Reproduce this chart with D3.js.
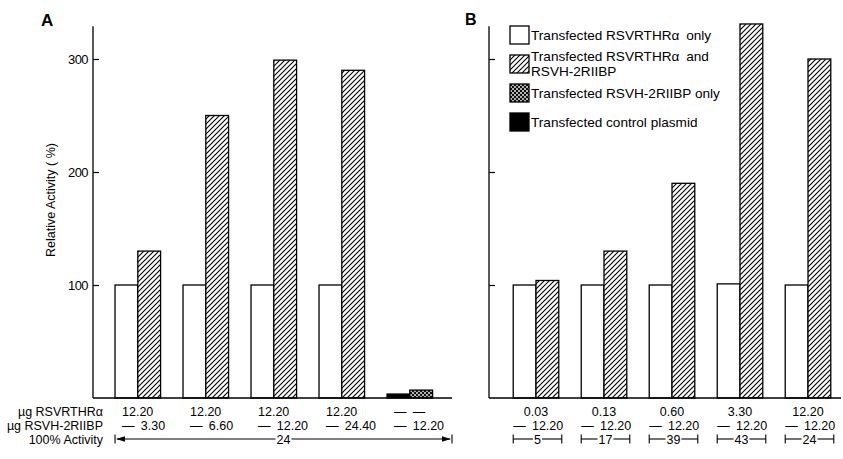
<!DOCTYPE html>
<html>
<head>
<meta charset="utf-8">
<script src="https://cdn.jsdelivr.net/npm/d3@7"></script>
<style>
  html, body { margin: 0; padding: 0; background: #fff; }
  svg { display: block; font-family: "Liberation Sans", Arial, Helvetica, sans-serif; }
</style>
</head>
<body>
<svg id="chart" width="843" height="459"></svg>
<script>
// ---------------- DATA ----------------
const groupsA = ["A1", "A2", "A3", "A4", "A5"];
const rthrOnlyA = [100, 100, 100, 100, null];
const bothA = [130, 250, 299, 290, null];
const controlA = [null, null, null, null, 3.5];
const h2OnlyA = [null, null, null, null, 7];

const groupsB = ["B1", "B2", "B3", "B4", "B5"];
const rthrOnlyB = [100, 100, 100, 101, 100];
const bothB = [104, 130, 190, 331, 300];

const yTicks = [100, 200, 300];

const rthrLabelsA = ["12.20", "12.20", "12.20", "12.20", "\u2014\u2002\u2014"];
const h2LabelsA = ["\u2014 3.30", "\u2014 6.60", "\u2014 12.20", "\u2014 24.40", "\u2014 12.20"];
const activityA = "24";
const rthrLabelsB = ["0.03", "0.13", "0.60", "3.30", "12.20"];
const h2LabelsB = ["\u2014 12.20", "\u2014 12.20", "\u2014 12.20", "\u2014 12.20", "\u2014 12.20"];
const activityB = ["5", "17", "39", "43", "24"];

const rowTitles = ["\u00B5g RSVRTHR\u03B1", "\u00B5g RSVH-2RIIBP", "100% Activity"];
const legendItems = [
  { fill: "white", lines: ["Transfected RSVRTHR\u03B1\u2002only"] },
  { fill: "url(#hatch)", lines: ["Transfected RSVRTHR\u03B1\u2002and", "RSVH-2RIIBP"] },
  { fill: "url(#dots)", lines: ["Transfected RSVH-2RIIBP only"] },
  { fill: "black", lines: ["Transfected control plasmid"] }
];

// ---------------- SETUP ----------------
const svg = d3.select("#chart");
const defs = svg.append("defs");
const hatch = defs.append("pattern").attr("id", "hatch")
  .attr("patternUnits", "userSpaceOnUse").attr("width", 5).attr("height", 5);
hatch.append("rect").attr("width", 5).attr("height", 5).attr("fill", "white");
hatch.append("path").attr("d", "M-1,1 l2,-2 M0,5 l5,-5 M4,6 l2,-2")
  .attr("stroke", "black").attr("stroke-width", 1.1);

const dots = defs.append("pattern").attr("id", "dots")
  .attr("patternUnits", "userSpaceOnUse").attr("width", 4).attr("height", 4);
dots.append("rect").attr("width", 4).attr("height", 4).attr("fill", "#111");
dots.append("circle").attr("cx", 1).attr("cy", 1).attr("r", 0.9).attr("fill", "white");
dots.append("circle").attr("cx", 3).attr("cy", 3).attr("r", 0.9).attr("fill", "white");

const y = d3.scaleLinear().domain([0, 300]).range([398, 59]);
const yTop = 329;

const xA = d3.scaleBand().domain(d3.range(5)).range([103.8, 443.8])
  .paddingInner(0.33).paddingOuter(0.165);
const xB = d3.scaleBand().domain(d3.range(5)).range([502, 842])
  .paddingInner(0.33).paddingOuter(0.165);
const subA = d3.scaleBand().domain([0, 1]).range([0, xA.bandwidth()]);
const subB = d3.scaleBand().domain([0, 1]).range([0, xB.bandwidth()]);

const FS = 12.5;

function drawAxis(x0, showLabels) {
  const ax = d3.axisLeft(y).tickValues(yTicks).tickSizeInner(-6).tickSizeOuter(0).tickPadding(5)
    .tickFormat(showLabels ? d3.format("d") : () => "");
  const g = svg.append("g").attr("transform", `translate(${x0},0)`).call(ax);
  g.select(".domain").remove();
  g.selectAll(".tick line").attr("stroke", "black").attr("stroke-width", 1.2);
  g.selectAll(".tick text").attr("font-size", 13).attr("fill", "black")
    .attr("font-family", "'Liberation Sans', Arial, sans-serif").attr("letter-spacing", -0.6);
  svg.append("line").attr("x1", x0).attr("x2", x0).attr("y1", y(0)).attr("y2", y(yTop))
    .attr("stroke", "black").attr("stroke-width", 1.3);
}

function drawBars(x, sub, series) {
  series.forEach(([vals, slot, fill]) => {
    svg.append("g").selectAll("rect")
      .data(vals.map((v, i) => ({ v, i })).filter(d => d.v != null))
      .join("rect")
      .attr("x", d => x(d.i) + sub(slot))
      .attr("y", d => y(d.v))
      .attr("width", sub.bandwidth())
      .attr("height", d => y(0) - y(d.v))
      .attr("fill", fill)
      .attr("stroke", "black")
      .attr("stroke-width", 1.3);
  });
}

// ---------------- PANEL A ----------------
drawBars(xA, subA, [[rthrOnlyA, 0, "white"], [bothA, 1, "url(#hatch)"],
                    [controlA, 0, "black"], [h2OnlyA, 1, "url(#dots)"]]);
drawAxis(93, true);
svg.append("line").attr("x1", 93).attr("x2", 452).attr("y1", y(0)).attr("y2", y(0))
  .attr("stroke", "black").attr("stroke-width", 1.5);

// ---------------- PANEL B ----------------
drawBars(xB, subB, [[rthrOnlyB, 0, "white"], [bothB, 1, "url(#hatch)"]]);
drawAxis(489, false);
svg.append("line").attr("x1", 489).attr("x2", 841).attr("y1", y(0)).attr("y2", y(0))
  .attr("stroke", "black").attr("stroke-width", 1.5);

// panel letters
svg.append("text").attr("x", 41).attr("y", 26).attr("font-size", 17).attr("font-weight", "bold").text("A");
svg.append("text").attr("x", 465).attr("y", 25).attr("font-size", 16).attr("font-weight", "bold").text("B");

// y label
svg.append("text").attr("transform", "translate(55,200) rotate(-90)")
  .attr("text-anchor", "middle").attr("font-size", 12.5).text("Relative Activity ( %)");

// legend
const legY = [26, 55, 84, 113];
legendItems.forEach((it, k) => {
  svg.append("rect").attr("x", 510).attr("y", legY[k]).attr("width", 19).attr("height", 18)
    .attr("fill", it.fill).attr("stroke", "black").attr("stroke-width", 1.3);
  it.lines.forEach((ln, j) => {
    svg.append("text").attr("x", 531).attr("font-size", 13.6)
      .attr("y", it.lines.length > 1 ? legY[k] + 5.5 + j * 15.6 : legY[k] + 14)
      .text(ln);
  });
});

// ---------------- BOTTOM LABELS ----------------
const rowY = [415.5, 429.5, 443.5];
rowTitles.forEach((s, k) => {
  svg.append("text").attr("x", 103).attr("y", rowY[k]).attr("text-anchor", "end")
    .attr("font-size", FS).text(s);
});

// Panel A rows
svg.append("g").selectAll("text").data(rthrLabelsA).join("text")
  .attr("x", (d, i) => xA(i) + 7).attr("y", rowY[0]).attr("font-size", FS).text(d => d);
svg.append("g").selectAll("text").data(h2LabelsA).join("text")
  .attr("x", (d, i) => xA(i) + 7).attr("y", rowY[1]).attr("font-size", FS)
  .text(d => d.replace(" ", "\u2002"));

// Panel A activity arrow
(function () {
  const x0 = xA(0), x1 = 452, yy = rowY[2] - 4.5;
  const g = svg.append("g").attr("stroke", "black").attr("stroke-width", 1.1);
  const cx = (x0 + x1) / 2;
  const t = svg.append("text").attr("x", cx).attr("y", rowY[2])
    .attr("text-anchor", "middle").attr("font-size", FS).text(activityA);
  const w = t.node().getComputedTextLength();
  g.append("line").attr("x1", x0).attr("x2", x0).attr("y1", yy - 4.5).attr("y2", yy + 4.5);
  g.append("line").attr("x1", x1).attr("x2", x1).attr("y1", yy - 4.5).attr("y2", yy + 4.5);
  g.append("line").attr("x1", x0 + 2).attr("x2", cx - w / 2 - 1).attr("y1", yy).attr("y2", yy);
  g.append("line").attr("x1", cx + w / 2 + 1).attr("x2", x1 - 2).attr("y1", yy).attr("y2", yy);
  svg.append("path").attr("d", `M${x0 + 1},${yy} l9,-2.8 l0,5.6 Z`).attr("fill", "black");
  svg.append("path").attr("d", `M${x1 - 1},${yy} l-9,-2.8 l0,5.6 Z`).attr("fill", "black");
})();

// Panel B rows
svg.append("g").selectAll("text").data(rthrLabelsB).join("text")
  .attr("x", (d, i) => xB(i) + xB.bandwidth() / 2).attr("y", rowY[0]).attr("text-anchor", "middle")
  .attr("font-size", FS).text(d => d);
svg.append("g").selectAll("text").data(h2LabelsB).join("text")
  .attr("x", (d, i) => xB(i)).attr("y", rowY[1]).attr("font-size", FS)
  .text(d => d.replace(" ", "\u2002"));
activityB.forEach((s, i) => {
  const x0 = xB(i), x1 = xB(i) + xB.bandwidth() + 3, yy = rowY[2] - 4.5, cx = (x0 + x1) / 2;
  const t = svg.append("text").attr("x", cx).attr("y", rowY[2]).attr("text-anchor", "middle")
    .attr("font-size", FS).text(s);
  const w = t.node().getComputedTextLength();
  const g = svg.append("g").attr("stroke", "black").attr("stroke-width", 1.1);
  g.append("line").attr("x1", x0).attr("x2", x0).attr("y1", yy - 4.5).attr("y2", yy + 4.5);
  g.append("line").attr("x1", x1).attr("x2", x1).attr("y1", yy - 4.5).attr("y2", yy + 4.5);
  g.append("line").attr("x1", x0).attr("x2", cx - w / 2 - 1).attr("y1", yy).attr("y2", yy);
  g.append("line").attr("x1", cx + w / 2 + 1).attr("x2", x1).attr("y1", yy).attr("y2", yy);
});
</script>
</body>
</html>
